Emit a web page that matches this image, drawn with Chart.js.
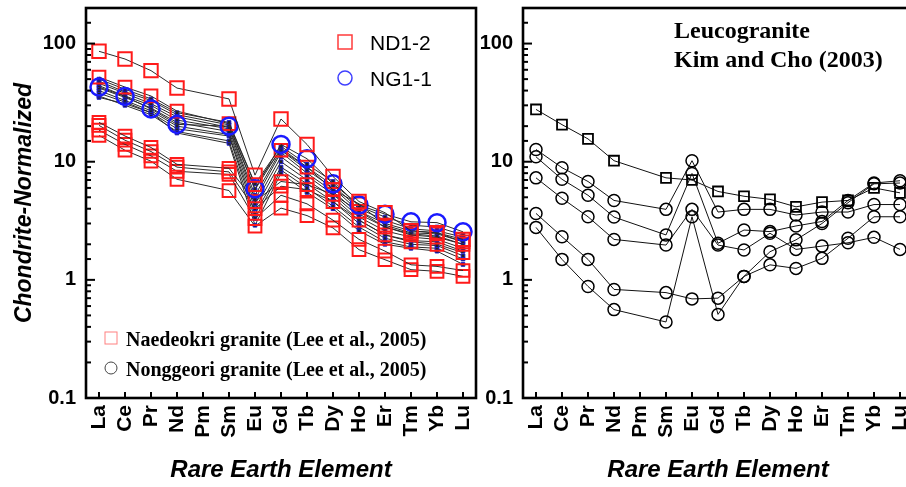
<!DOCTYPE html>
<html>
<head>
<meta charset="utf-8">
<script src="https://cdn.jsdelivr.net/npm/chart.js@4.4.1/dist/chart.umd.min.js"></script>
<style>
html, body { margin: 0; padding: 0; background: #fff; overflow: hidden; width: 906px; height: 487px; }
#grafico1 { position: absolute; left: 0; top: 0; }
#grafico2 { position: absolute; left: 437px; top: 0; }
</style>
</head>
<body>
<canvas id="grafico1" width="480" height="487"></canvas>
<canvas id="grafico2" width="480" height="487"></canvas>
<script>
const elements = ['La', 'Ce', 'Pr', 'Nd', 'Pm', 'Sm', 'Eu', 'Gd', 'Tb', 'Dy', 'Ho', 'Er', 'Tm', 'Yb', 'Lu'];
const yMajor = [0.1, 1, 10, 100];

// left panel
const nd12 = [86, 74, 59, 42, null, 34, 7.7, 23, 14, 7.5, 4.6, 3.7, 2.6, 2.5, 2.2];
const ng11 = [42.8, 35.7, 28, 20.7, null, 20, 5.9, 14, 10.6, 6.5, 4.3, 3.6, 3.1, 3.05, 2.55];
const naedeokri = [
    [52, 42.8, 36, 26.8, null, 21, 6.4, 12.5, 9.0, 5.8, 4.4, 2.9, 2.5, 2.45, 2.1],
    [21.5, 16.5, 13.2, 9.5, null, 8.8, 4.6, 6.8, 6.4, 5.3, 3.8, 2.8, 2.4, 2.3, 2.0],
    [20.3, 15.2, 12.2, 9.0, null, 8.2, 4.0, 6.2, 5.8, 4.6, 3.2, 2.4, 2.1, 2.0, 1.7],
    [18.5, 14, 11.2, 8.3, null, 7.8, 3.3, 5.2, 4.4, 3.2, 2.2, 1.75, 1.34, 1.3, 1.2],
    [16.7, 12.5, 10.1, 7.1, null, 5.7, 2.85, 4.05, 3.5, 2.75, 1.8, 1.48, 1.22, 1.18, 1.07]
];
const nonggeori = [
    [50, 41, 34, 26, null, 21.5, 6.5, 13.5, 9.5, 6.8, 4.2, 3.4, 2.9, 2.8, 2.4],
    [48, 39, 33, 25, null, 20.5, 5.8, 13, 9, 6.3, 4.0, 3.2, 2.7, 2.6, 2.3],
    [46, 38, 31, 24, null, 19.5, 5.2, 12.5, 8.5, 6.0, 3.8, 3.0, 2.6, 2.5, 2.1],
    [44, 36, 30, 22.5, null, 19, 4.8, 12, 8.0, 5.6, 3.6, 2.8, 2.45, 2.35, 2.0],
    [42, 35, 28.5, 21.5, null, 18, 4.4, 11, 7.6, 5.3, 3.4, 2.6, 2.3, 2.2, 1.85],
    [40, 33, 27, 20, null, 17, 4.0, 10, 7.0, 5.0, 3.2, 2.4, 2.15, 2.1, 1.75],
    [38, 32, 26, 19, null, 16.5, 3.6, 9, 6.5, 4.6, 3.0, 2.25, 2.0, 1.95, 1.6],
    [36, 30, 25, 18, null, 15, 3.3, 8.5, 6.0, 4.2, 2.8, 2.1, 1.9, 1.85, 1.5],
    [35, 31, 26, 17.5, null, 14.3, 2.9, 8, 5.5, 4.0, 2.6, 2.0, 1.85, 1.75, 1.35]
];

// right panel (Kim and Cho, 2003)
const kimChoSquare = [27.7, 20.6, 15.6, 10.2, null, 7.3, 7.0, 5.6, 5.1, 4.8, 4.15, 4.55, 4.7, 6.0, 5.45];
const kimChoCircles = [
    [12.7, 8.9, 6.8, 4.7, null, 3.95, 10.2, 3.75, 3.95, 3.95, 3.54, 3.75, 3.75, 4.34, 4.34],
    [11.0, 7.1, 5.2, 3.4, null, 2.4, 7.95, 2.04, 2.64, 2.56, 2.86, 3.12, 4.7, 6.6, 6.9],
    [7.3, 4.9, 3.42, 2.2, null, 1.97, 3.95, 1.97, 1.79, 2.48, 1.81, 1.93, 2.06, 2.29, 1.81],
    [3.65, 2.32, 1.49, 0.83, null, 0.78, 0.69, 0.70, 1.07, 1.34, 1.25, 1.52, 2.25, 3.42, 3.42],
    [2.78, 1.49, 0.88, 0.56, null, 0.44, 3.42, 0.51, 1.07, 1.73, 2.18, 3.0, 4.5, 6.5, 6.6]
];

const sans = '"Liberation Sans", Arial, sans-serif';
const serif = '"Liberation Serif", "Times New Roman", serif';

// inward tick marks and the closed frame
const frameTicks = {
    id: 'frameTicks',
    afterDraw(chart) {
        const ctx = chart.ctx;
        const a = chart.chartArea;
        const x = chart.scales.x;
        const y = chart.scales.y;
        ctx.save();
        ctx.strokeStyle = '#000';
        ctx.lineWidth = 2;
        y.ticks.forEach(t => {
            const py = y.getPixelForValue(t.value);
            const len = yMajor.includes(t.value) ? 9 : 5;
            ctx.beginPath();
            ctx.moveTo(a.left, py);
            ctx.lineTo(a.left + len, py);
            ctx.stroke();
        });
        x.ticks.forEach((t, i) => {
            const px = x.getPixelForTick(i);
            ctx.beginPath();
            ctx.moveTo(px, a.bottom);
            ctx.lineTo(px, a.bottom - 6);
            ctx.stroke();
        });
        ctx.lineWidth = 2.6;
        ctx.strokeRect(a.left, a.top, a.right - a.left, a.bottom - a.top);
        ctx.restore();
    }
};

function makeOptions(yTitle) {
    return {
        responsive: false,
        animation: false,
        events: [],
        layout: { autoPadding: false, padding: { top: 8, right: 4, left: 0, bottom: 0 } },
        plugins: { legend: { display: false }, tooltip: { enabled: false } },
        scales: {
            x: {
                type: 'category',
                offset: true,
                grid: { display: false, drawTicks: false },
                border: { display: false },
                ticks: {
                    color: '#000',
                    font: { family: sans, size: 21, weight: 'bold' },
                    minRotation: 90,
                    maxRotation: 90,
                    autoSkip: false,
                    padding: 7
                },
                title: {
                    display: true,
                    text: 'Rare Earth Element',
                    color: '#000',
                    font: { family: sans, size: 24, weight: 'bold', style: 'italic' },
                    padding: { top: 0, bottom: 2 }
                },
                afterFit: s => {
                    s.height = 89;
                    s.paddingLeft = 0;
                    s.paddingRight = 0;
                }
            },
            y: {
                type: 'logarithmic',
                min: 0.1,
                max: 200,
                grid: { display: false, drawTicks: false },
                border: { display: false },
                ticks: {
                    color: '#000',
                    font: { family: sans, size: 20, weight: 'bold' },
                    padding: 10,
                    autoSkip: false,
                    callback: v => yMajor.includes(v) ? String(v) : ''
                },
                title: {
                    display: yTitle,
                    text: 'Chondrite-Normalized',
                    color: '#000',
                    font: { family: sans, size: 23, weight: 'bold', style: 'italic' },
                    padding: { top: 11, bottom: 0 }
                },
                afterFit: s => {
                    s.width = 86;
                    s.paddingTop = 0;
                    s.paddingBottom = 0;
                }
            }
        }
    };
}

// left chart datasets
let leftSets = [];
nonggeori.forEach(d => leftSets.push({
    data: d, spanGaps: true, order: 4,
    borderColor: '#2a2a2a', borderWidth: 1,
    pointStyle: 'rect', pointRadius: 2.6,
    pointBorderColor: '#1a1acc', pointBackgroundColor: '#222', pointBorderWidth: 1
}));
naedeokri.forEach(d => leftSets.push({
    data: d, spanGaps: true, order: 3,
    borderColor: '#2a2a2a', borderWidth: 1,
    pointStyle: 'rect', pointRadius: 9,
    pointBorderColor: '#ff1a1a', pointBackgroundColor: 'rgba(0,0,0,0)', pointBorderWidth: 2
}));
leftSets.push({
    data: ng11, spanGaps: true, order: 2,
    borderColor: '#2a2a2a', borderWidth: 1,
    pointStyle: 'circle', pointRadius: 8.5,
    pointBorderColor: '#1a1aff', pointBackgroundColor: 'rgba(0,0,0,0)', pointBorderWidth: 2.5
});
leftSets.push({
    data: nd12, spanGaps: true, order: 1,
    borderColor: '#2a2a2a', borderWidth: 1,
    pointStyle: 'rect', pointRadius: 9.5,
    pointBorderColor: '#ff1a1a', pointBackgroundColor: 'rgba(0,0,0,0)', pointBorderWidth: 2
});

const leftNotes = {
    id: 'leftNotes',
    afterDraw(chart) {
        const ctx = chart.ctx;
        ctx.save();
        ctx.lineWidth = 1.5;
        ctx.strokeStyle = '#ff3b3b';
        ctx.strokeRect(338, 35, 14, 14);
        ctx.strokeStyle = '#4040ff';
        ctx.beginPath();
        ctx.arc(345, 78, 7, 0, Math.PI * 2);
        ctx.stroke();
        ctx.fillStyle = '#000';
        ctx.textBaseline = 'alphabetic';
        ctx.font = '21px ' + sans;
        ctx.fillText('ND1-2', 370, 50);
        ctx.fillText('NG1-1', 370, 86);

        ctx.lineWidth = 1;
        ctx.strokeStyle = '#ff8080';
        ctx.strokeRect(105, 332, 12, 12);
        ctx.strokeStyle = '#444';
        ctx.beginPath();
        ctx.arc(111, 368, 6, 0, Math.PI * 2);
        ctx.stroke();
        ctx.font = 'bold 20px ' + serif;
        ctx.fillText('Naedeokri granite (Lee et al., 2005)', 126, 346);
        ctx.fillText('Nonggeori granite (Lee et al., 2005)', 126, 376);
        ctx.restore();
    }
};

new Chart(document.getElementById('grafico1'), {
    type: 'line',
    data: { labels: elements, datasets: leftSets },
    options: makeOptions(true),
    plugins: [frameTicks, leftNotes]
});

// right chart datasets
let rightSets = [];
kimChoCircles.forEach(d => rightSets.push({
    data: d, spanGaps: true,
    borderColor: '#111', borderWidth: 1,
    pointStyle: 'circle', pointRadius: 6,
    pointBorderColor: '#000', pointBackgroundColor: 'rgba(0,0,0,0)', pointBorderWidth: 1.5
}));
rightSets.push({
    data: kimChoSquare, spanGaps: true,
    borderColor: '#111', borderWidth: 1,
    pointStyle: 'rect', pointRadius: 7,
    pointBorderColor: '#000', pointBackgroundColor: 'rgba(0,0,0,0)', pointBorderWidth: 1.8
});

const rightNotes = {
    id: 'rightNotes',
    afterDraw(chart) {
        const ctx = chart.ctx;
        ctx.save();
        ctx.fillStyle = '#000';
        ctx.font = 'bold 24px ' + serif;
        ctx.fillText('Leucogranite', 237, 38);
        ctx.fillText('Kim and Cho (2003)', 237, 67);
        ctx.restore();
    }
};

new Chart(document.getElementById('grafico2'), {
    type: 'line',
    data: { labels: elements, datasets: rightSets },
    options: makeOptions(false),
    plugins: [frameTicks, rightNotes]
});
</script>
</body>
</html>
